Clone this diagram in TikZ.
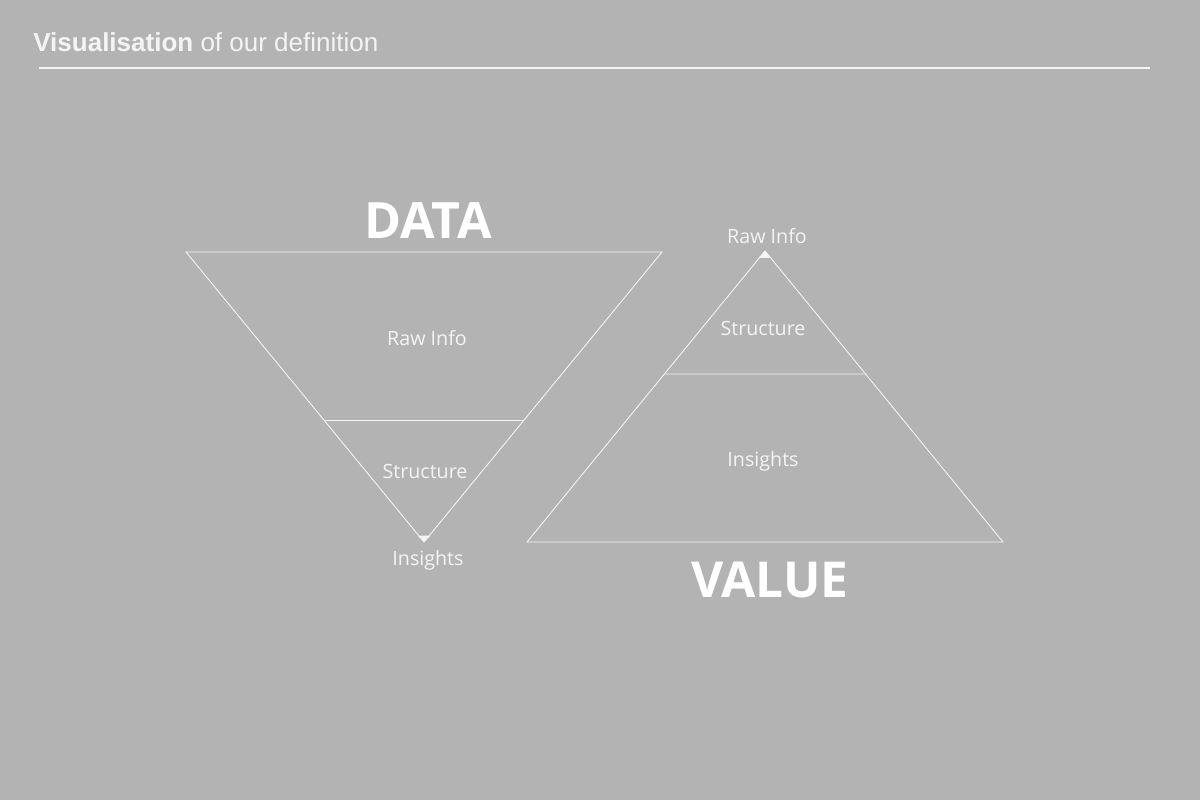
\documentclass[tikz,border=0pt]{standalone}
\usepackage{fontspec}
\setmainfont{Open Sans}
\newfontfamily\headfont{Liberation Sans}
\definecolor{SlideGrey}{HTML}{B3B3B3}
\definecolor{LineWhite}{HTML}{F4F4F4}
\definecolor{DividerGrey}{HTML}{C9C9C9}
\begin{document}
\begin{tikzpicture}[x=0.02cm,y=-0.02cm,font=\fontsize{11.2}{13}\selectfont,text=LineWhite]
\fill[SlideGrey] (0,0) rectangle (1200,800);
\useasboundingbox (0,0) rectangle (1200,800);
% heading
\node[anchor=base west,inner sep=0pt,font=\headfont\fontsize{14.8}{17}\selectfont] (heading) at (33,52)
  {\textbf{Visualisation} of our definition};
\draw[LineWhite,line width=0.6pt] (39,68) -- (1150,68);
% data funnel
\coordinate (dTL) at (186,252);
\coordinate (dTR) at (662,252);
\coordinate (dTip) at (424,542);
\draw[LineWhite,line width=0.5pt] (dTL) -- (dTR) -- (dTip) -- cycle;
\draw[LineWhite,line width=0.5pt] (324,420) -- (524,420);
\fill[LineWhite] (417.5,535.5) -- (430.5,535.5) -- (dTip) -- cycle;
\node[font=\fontsize{28.5}{30}\selectfont\bfseries,text=white] (dataTitle) at (428,221) {DATA};
\node (dRaw) at (427,338) {Raw Info};
\node (dStruct) at (425,471) {Structure};
\node (dIns) at (428,560) {Insights};
% value pyramid
\coordinate (vTop) at (765,251);
\coordinate (vBL) at (527,542);
\coordinate (vBR) at (1003,542);
\draw[LineWhite,line width=0.5pt] (vTop) -- (vBR) -- (vBL) -- cycle;
\draw[DividerGrey,line width=1pt] (665,374) -- (865,374);
\fill[LineWhite] (758.5,258) -- (771.5,258) -- (vTop) -- cycle;
\node[font=\fontsize{28.2}{30}\selectfont\bfseries,text=white] (valueTitle) at (770,580) {VALUE};
\node (vRaw) at (767,236) {Raw Info};
\node (vStruct) at (763,328) {Structure};
\node (vIns) at (763,461) {Insights};
\end{tikzpicture}
\end{document}
